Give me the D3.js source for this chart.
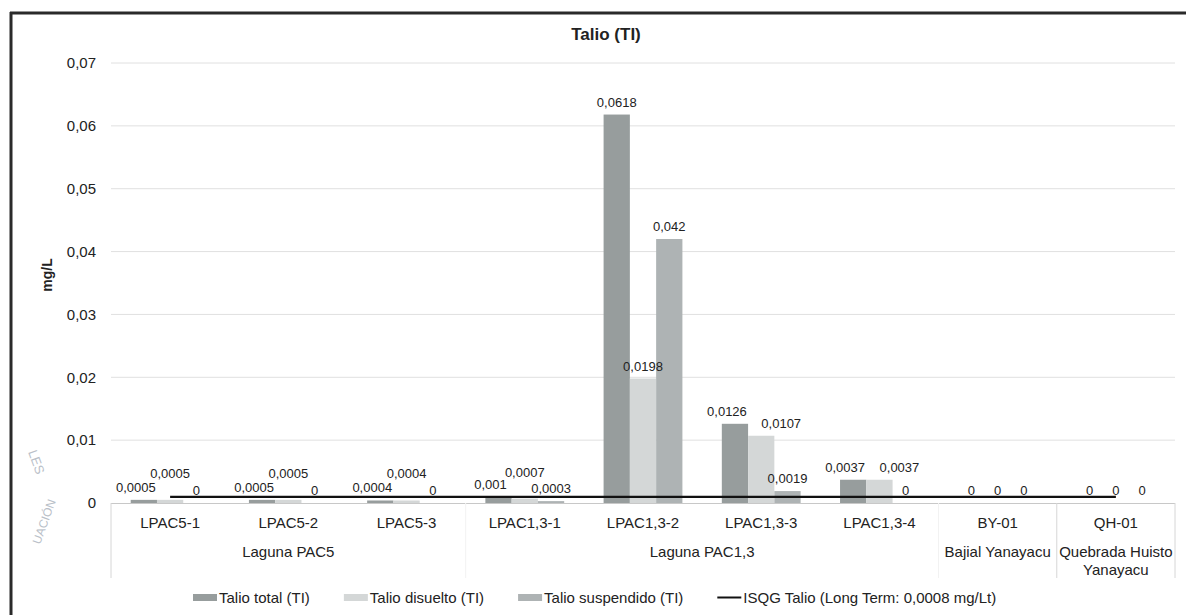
<!DOCTYPE html>
<html lang="es">
<head>
<meta charset="utf-8">
<title>Talio (TI)</title>
<script src="https://d3js.org/d3.v7.min.js"></script>
<style>
  body { margin: 0; background: #fff; }
  text { font-family: "Liberation Sans", Arial, sans-serif; fill: #222; }
</style>
</head>
<body>
<div id="chart"></div>
<script>
// data
var stations = ["LPAC5-1", "LPAC5-2", "LPAC5-3", "LPAC1,3-1", "LPAC1,3-2", "LPAC1,3-3", "LPAC1,3-4", "BY-01", "QH-01"];
var groups = [
  {name: ["Laguna PAC5"], n: 3},
  {name: ["Laguna PAC1,3"], n: 4},
  {name: ["Bajial Yanayacu"], n: 1},
  {name: ["Quebrada Huisto", "Yanayacu"], n: 1}
];
var talioTotal      = [0.0005, 0.0005, 0.0004, 0.001, 0.0618, 0.0126, 0.0037, 0, 0];
var talioDisuelto   = [0.0005, 0.0005, 0.0004, 0.0007, 0.0198, 0.0107, 0.0037, 0, 0];
var talioSuspendido = [0, 0, 0, 0.0003, 0.042, 0.0019, 0, 0, 0];
var isqg = [0.0008, 0.0008, 0.0008, 0.0008, 0.0008, 0.0008, 0.0008, 0.0008, 0.0008];
var yTicks = [0, 0.01, 0.02, 0.03, 0.04, 0.05, 0.06, 0.07];

var seriesNames = ["Talio total (TI)", "Talio disuelto (TI)", "Talio suspendido (TI)"];
var seriesColors = ["#979d9d", "#d4d7d7", "#aeb3b4"];
var lineName = "ISQG Talio (Long Term: 0,0008 mg/Lt)";

var W = 1186, H = 615;
var plot = {left: 111, right: 1175, top: 63, bottom: 503};

var svg = d3.select("#chart").append("svg")
    .attr("width", W).attr("height", H);
svg.append("rect").attr("width", W).attr("height", H).attr("fill", "#fff");

var fmt = function(v) { return String(v).replace(".", ","); };

var x = d3.scaleBand().domain(stations).range([plot.left, plot.right]).paddingInner(0).paddingOuter(0);
var y = d3.scaleLinear().domain([0, 0.07]).range([plot.bottom, plot.top]);
var barW = x.bandwidth() / 4.5;
var xs = d3.scaleBand().domain([0, 1, 2]).range([0, barW * 3]);
var offset = (x.bandwidth() - barW * 3) / 2;

// gridlines
svg.append("g").selectAll("line").data(yTicks.slice(1)).enter().append("line")
    .attr("x1", plot.left).attr("x2", plot.right)
    .attr("y1", function(d) { return y(d); }).attr("y2", function(d) { return y(d); })
    .attr("stroke", "#e0e0e0").attr("stroke-width", 1);

// y axis labels
var yAxis = d3.axisLeft(y).tickValues(yTicks).tickSize(0).tickPadding(15)
    .tickFormat(function(d) { return fmt(d); });
var gy = svg.append("g").attr("transform", "translate(" + plot.left + ",0)").call(yAxis);
gy.select(".domain").remove();
gy.selectAll("text").style("font-size", "15px").style("font-family", "Liberation Sans, Arial, sans-serif").attr("fill", "#222");

// category axis baseline
svg.append("line").attr("x1", plot.left).attr("x2", plot.right)
    .attr("y1", plot.bottom + 0.5).attr("y2", plot.bottom + 0.5)
    .attr("stroke", "#c8c8c8");

// bars
var series = [talioTotal, talioDisuelto, talioSuspendido];
series.forEach(function(vals, si) {
  svg.append("g").selectAll("rect").data(vals).enter().append("rect")
    .attr("x", function(d, i) { return x(stations[i]) + offset + xs(si); })
    .attr("width", barW)
    .attr("y", function(d) { return y(d); })
    .attr("height", function(d) { return y(0) - y(d); })
    .attr("fill", seriesColors[si]);
});

// ISQG line
var line = d3.line()
  .x(function(d, i) { return x(stations[i]) + x.bandwidth() / 2; })
  .y(function(d) { return y(d) - 1; });
svg.append("path").datum(isqg).attr("d", line)
  .attr("fill", "none").attr("stroke", "#111").attr("stroke-width", 2.2);

// data labels, nudged a bit where they would collide
var labels = [];
var textW = function(v) { return fmt(v).length * 7.3; };
stations.forEach(function(s, i) {
  var row = series.map(function(vals, si) {
    return {v: vals[i], x: x(s) + offset + xs(si) + barW / 2, y: y(vals[i]) - 8, si: si};
  });
  var t = row[0], d = row[1];
  if (Math.abs(t.x - d.x) < (textW(t.v) + textW(d.v)) / 2 && Math.abs(t.y - d.y) < 12) {
    t.x -= 8;
    if (t.v < 0.002) d.y -= 14;
    else d.x += 20;
  }
  labels = labels.concat(row);
});
svg.append("g").selectAll("text").data(labels).enter().append("text")
  .attr("x", function(d) { return d.x; })
  .attr("y", function(d) { return d.y; })
  .attr("text-anchor", "middle")
  .style("font-size", "13px")
  .text(function(d) { return fmt(d.v); });

// station labels
svg.append("g").selectAll("text").data(stations).enter().append("text")
  .attr("x", function(d) { return x(d) + x.bandwidth() / 2; })
  .attr("y", 528)
  .attr("text-anchor", "middle")
  .style("font-size", "15px")
  .text(function(d) { return d; });

// group labels + separators
var start = 0, bounds = [plot.left];
groups.forEach(function(g) {
  var x0 = x(stations[start]);
  var x1 = x(stations[start + g.n - 1]) + x.bandwidth();
  bounds.push(x1);
  var t = svg.append("text").attr("x", (x0 + x1) / 2).attr("y", 557)
    .attr("text-anchor", "middle").style("font-size", "15px");
  g.name.forEach(function(line, k) {
    t.append("tspan").attr("x", (x0 + x1) / 2).attr("dy", k ? 18 : 0).text(line);
  });
  start += g.n;
});
svg.append("g").selectAll("line").data(bounds).enter().append("line")
  .attr("x1", function(d) { return d; }).attr("x2", function(d) { return d; })
  .attr("y1", plot.bottom).attr("y2", 578)
  .attr("stroke", function(d, i) { return (i == 1 || i == 2) ? "#f2f2f2" : "#d6d6d6"; });

// title and axis title
svg.append("text").attr("x", 606).attr("y", 40).attr("text-anchor", "middle")
  .style("font-size", "17px").style("font-weight", "bold").text("Talio (TI)");
svg.append("text").attr("transform", "translate(52,275) rotate(-90)")
  .attr("text-anchor", "middle").style("font-size", "14px").style("font-weight", "bold").text("mg/L");

// legend
var legend = svg.append("g");
var lx = 193;
seriesNames.concat([lineName]).forEach(function(name, i) {
  if (i < 3) {
    legend.append("rect").attr("x", lx).attr("y", 594).attr("width", 24).attr("height", 7).attr("fill", seriesColors[i]);
  } else {
    legend.append("line").attr("x1", lx).attr("x2", lx + 24).attr("y1", 597.5).attr("y2", 597.5)
      .attr("stroke", "#111").attr("stroke-width", 2);
  }
  var t = legend.append("text").attr("x", lx + 26).attr("y", 603).style("font-size", "15px").text(name);
  lx += 26 + t.node().getComputedTextLength() + 34;
});

// frame of the scanned page
svg.append("line").attr("x1", 10).attr("x2", W).attr("y1", 13).attr("y2", 13)
  .attr("stroke", "#2a2a2a").attr("stroke-width", 3);
svg.append("line").attr("x1", 11).attr("x2", 11).attr("y1", 12).attr("y2", H)
  .attr("stroke", "#2a2a2a").attr("stroke-width", 3);

// faint stamp remnants at the left
svg.append("text").attr("transform", "translate(28,452) rotate(70)")
  .style("font-size", "13px").style("fill", "#b9c0c8").text("LES");
svg.append("text").attr("transform", "translate(40,545) rotate(-70)")
  .style("font-size", "12px").style("fill", "#b9c0c8").text("UACIÓN");
</script>
</body>
</html>
